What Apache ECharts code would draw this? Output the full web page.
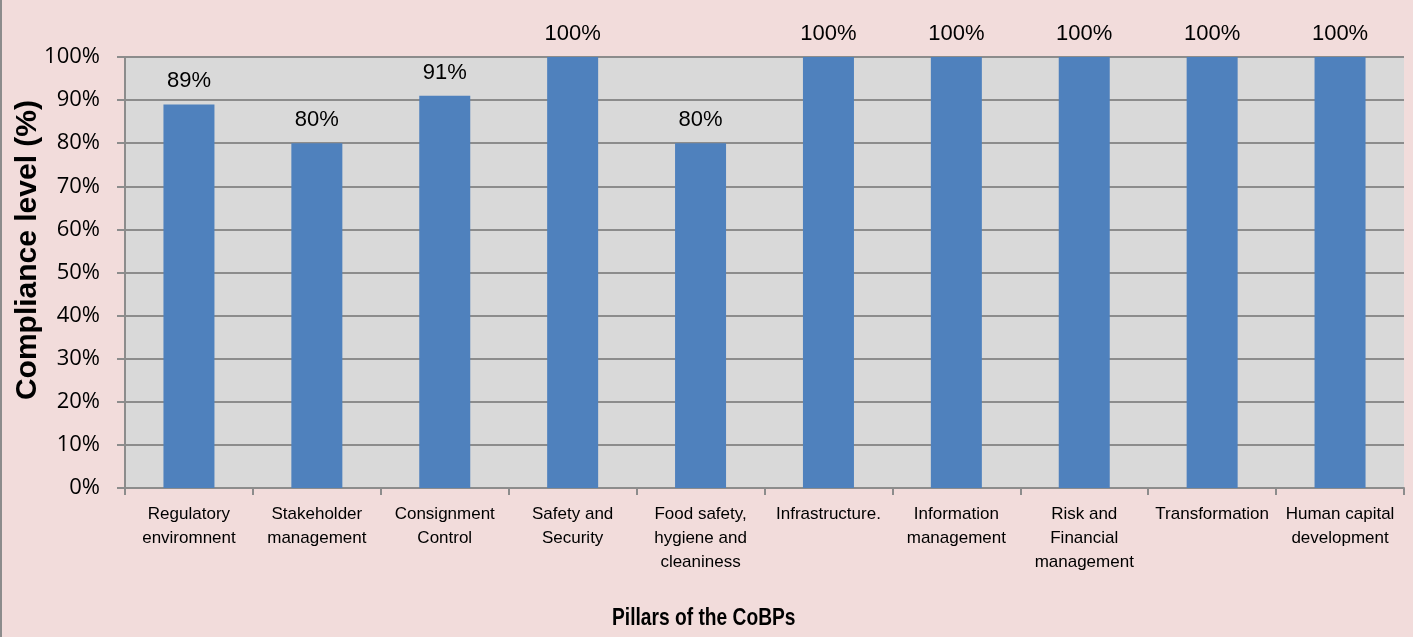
<!DOCTYPE html>
<html>
<head>
<meta charset="utf-8">
<script src="https://cdn.jsdelivr.net/npm/echarts@6/dist/echarts.min.js"></script>
<style>
  html, body { margin: 0; padding: 0; background: #F2DCDB; }
  #chart { width: 1411px; height: 637px; border-left: 2px solid #8c8c8c; }
</style>
</head>
<body>
<div id="chart"></div>
<script>
const categories = [
  'Regulatory\nenviromnent',
  'Stakeholder\nmanagement',
  'Consignment\nControl',
  'Safety and\nSecurity',
  'Food safety,\nhygiene and\ncleaniness',
  'Infrastructure.',
  'Information\nmanagement',
  'Risk and\nFinancial\nmanagement',
  'Transformation',
  'Human capital\ndevelopment'
]
const compliance = [89, 80, 91, 100, 80, 100, 100, 100, 100, 100]
const yTicks = [0, 10, 20, 30, 40, 50, 60, 70, 80, 90, 100]

const sans = "'Liberation Sans', Arial, sans-serif"
const chart = echarts.init(document.getElementById('chart'))
chart.setOption({
  animation: false,
  backgroundColor: '#F2DCDB',
  grid: {
    left: 123,
    right: 9,
    top: 57,
    bottom: 149,
    show: true,
    backgroundColor: '#D9D9D9',
    borderWidth: 0
  },
  xAxis: {
    type: 'category',
    data: categories,
    axisLine: { lineStyle: { color: '#8c8c8c', width: 2 } },
    axisTick: { show: true, length: 7, lineStyle: { color: '#8c8c8c', width: 2 } },
    axisLabel: {
      color: '#000',
      fontFamily: sans,
      fontSize: 17,
      lineHeight: 24,
      margin: 14,
      interval: 0
    }
  },
  yAxis: {
    type: 'value',
    min: 0,
    max: 100,
    interval: 10,
    axisLine: { show: true, lineStyle: { color: '#8c8c8c', width: 2 } },
    axisTick: { show: true, length: 8, lineStyle: { color: '#8c8c8c', width: 2 } },
    splitLine: { show: true, lineStyle: { color: '#8c8c8c', width: 2 } },
    axisLabel: {
      color: '#000',
      fontFamily: "'Open Sans', sans-serif",
      fontSize: 22,
      margin: 25,
      formatter: v => (yTicks.includes(v) ? v + '%' : '')
    }
  },
  series: [{
    type: 'bar',
    data: compliance,
    barWidth: 51,
    itemStyle: { color: '#4F81BD' },
    label: {
      show: true,
      position: 'top',
      distance: 12,
      color: '#000',
      fontFamily: sans,
      fontSize: 22,
      formatter: p => p.value + '%'
    }
  }],
  graphic: [
    {
      type: 'text',
      left: 11,
      top: 100,
      rotation: Math.PI / 2,
      style: {
        text: 'Compliance level (%)',
        font: 'bold 30px ' + sans,
        fill: '#000'
      }
    },
    {
      type: 'text',
      x: 610,
      y: 606,
      scaleX: 0.8,
      style: {
        text: 'Pillars of the CoBPs',
        font: 'bold 24px ' + sans,
        fill: '#000'
      }
    }
  ]
})
</script>
</body>
</html>
